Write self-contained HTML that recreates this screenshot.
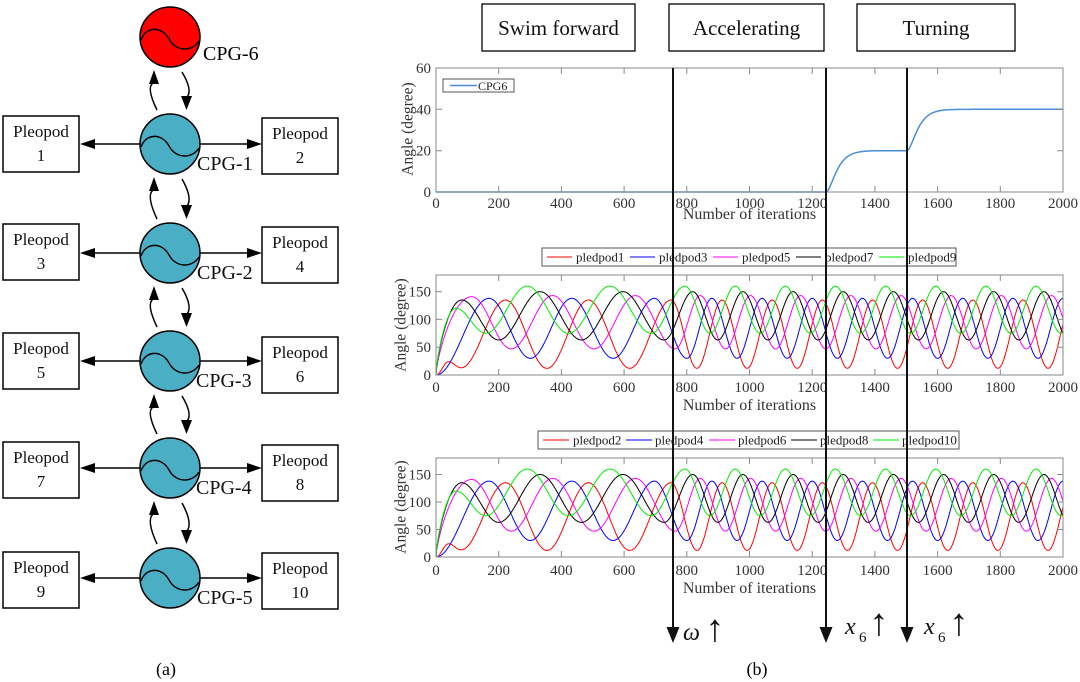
<!DOCTYPE html>
<html><head><meta charset="utf-8"><style>
html,body{margin:0;padding:0;background:#fff;}
svg{display:block;font-family:"Liberation Serif","Times New Roman",serif;}
</style></head><body>
<svg width="1080" height="682" viewBox="0 0 1080 682" xmlns="http://www.w3.org/2000/svg">
<defs>
<path id="wv" d="M-29 3C-24 -11 -8 -11 -1 2C6 15 22 15 29 4" fill="none" stroke="#000" stroke-width="1.4"/>
<g id="harr"><path d="M140 0H94M200 0H248" stroke="#000" stroke-width="1.5"/><path d="M80 0L95 -5L95 5ZM262 0L247 -5L247 5Z" fill="#000"/></g>
<path id="xtb" d="M62.7 0v-6M125.4 0v-6M188.1 0v-6M250.8 0v-6M313.5 0v-6M376.2 0v-6M438.9 0v-6M501.6 0v-6M564.3 0v-6" stroke="#8a8a8a" stroke-width="1"/>
<path id="xtt" d="M62.7 0v6M125.4 0v6M188.1 0v6M250.8 0v6M313.5 0v6M376.2 0v6M438.9 0v6M501.6 0v6M564.3 0v6" stroke="#8a8a8a" stroke-width="1"/>
<clipPath id="c1"><rect x="436" y="66" width="627" height="128"/></clipPath>
<clipPath id="c2"><rect x="436" y="275" width="627" height="100"/></clipPath>
<clipPath id="c3"><rect x="436" y="458" width="627" height="99"/></clipPath>
</defs>
<rect width="1080" height="682" fill="#fff"/>

<!-- ===== Left diagram ===== -->
<circle cx="170" cy="37" r="30" fill="#ff0000" stroke="#000" stroke-width="1.5"/>
<use href="#wv" transform="translate(170,37)"/>
<text x="203" y="60" font-size="20">CPG-6</text>

<g fill="#4aafc5" stroke="#000" stroke-width="1.5">
<circle cx="170" cy="144" r="30"/><circle cx="170" cy="253" r="30"/><circle cx="170" cy="361" r="30"/><circle cx="170" cy="468" r="30"/><circle cx="170" cy="578" r="30"/>
</g>
<use href="#wv" transform="translate(170,144)"/><use href="#wv" transform="translate(170,253)"/><use href="#wv" transform="translate(170,361)"/><use href="#wv" transform="translate(170,468)"/><use href="#wv" transform="translate(170,578)"/>

<use href="#harr" y="144"/><use href="#harr" y="253"/><use href="#harr" y="361"/><use href="#harr" y="468"/><use href="#harr" y="578"/>

<!-- curved coupling arrows -->
<g fill="none" stroke="#000" stroke-width="1.5">
<path d="M157 110Q146 87.5 153 83"/><path d="M182 72Q193 90.5 187 97"/>
<path d="M157 219Q146 195.5 153 190"/><path d="M182 179Q193 198.5 187 206"/>
<path d="M157 327Q146 304 153 299"/><path d="M182 288Q193 307 187 314"/>
<path d="M157 434Q146 411.5 153 407"/><path d="M182 396Q193 414.5 187 421"/>
<path d="M157 544Q146 520 153 514"/><path d="M182 503Q193 523 187 531"/>
</g>
<g fill="#000">
<path d="M154 70L149 84L159 84Z"/><path d="M181 96L192 96L186.5 110Z"/>
<path d="M154 177L149 191L159 191Z"/><path d="M181 205L192 205L186.5 219Z"/>
<path d="M154 286L149 300L159 300Z"/><path d="M181 313L192 313L186.5 327Z"/>
<path d="M154 394L149 408L159 408Z"/><path d="M181 420L192 420L186.5 434Z"/>
<path d="M154 501L149 515L159 515Z"/><path d="M181 530L192 530L186.5 544Z"/>
</g>

<g fill="#fff" stroke="#000" stroke-width="1.5">
<rect x="3" y="116" width="76" height="56"/><rect x="262" y="118" width="76" height="56"/>
<rect x="3" y="224" width="76" height="56"/><rect x="262" y="227" width="76" height="56"/>
<rect x="3" y="333" width="76" height="56"/><rect x="262" y="337" width="76" height="56"/>
<rect x="3" y="442" width="76" height="56"/><rect x="262" y="445" width="76" height="56"/>
<rect x="3" y="552" width="76" height="56"/><rect x="262" y="553" width="76" height="56"/>
</g>
<g font-size="17" text-anchor="middle" fill="#111">
<text x="41" y="137">Pleopod</text><text x="41" y="161">1</text>
<text x="300" y="139">Pleopod</text><text x="300" y="163">2</text>
<text x="41" y="245">Pleopod</text><text x="41" y="269">3</text>
<text x="300" y="248">Pleopod</text><text x="300" y="272">4</text>
<text x="41" y="354">Pleopod</text><text x="41" y="378">5</text>
<text x="300" y="358">Pleopod</text><text x="300" y="382">6</text>
<text x="41" y="463">Pleopod</text><text x="41" y="487">7</text>
<text x="300" y="466">Pleopod</text><text x="300" y="490">8</text>
<text x="41" y="573">Pleopod</text><text x="41" y="597">9</text>
<text x="300" y="574">Pleopod</text><text x="300" y="598">10</text>
</g>
<g font-size="20" fill="#111">
<text x="197" y="170">CPG-1</text>
<text x="197" y="279">CPG-2</text>
<text x="196" y="387">CPG-3</text>
<text x="196" y="494">CPG-4</text>
<text x="197" y="604">CPG-5</text>
</g>
<text x="166" y="675" font-size="18" text-anchor="middle">(a)</text>

<!-- ===== Title boxes ===== -->
<g fill="none" stroke="#000" stroke-width="1.3">
<rect x="482" y="4" width="153" height="47"/>
<rect x="669" y="4" width="155" height="47"/>
<rect x="857" y="4" width="158" height="47"/>
</g>
<g font-size="21" text-anchor="middle" fill="#111">
<text x="558.5" y="35">Swim forward</text>
<text x="746.5" y="35">Accelerating</text>
<text x="936" y="35">Turning</text>
</g>

<!-- ===== Top plot ===== -->
<path id="cpg6" clip-path="url(#c1)" fill="none" stroke="#4a8ddb" stroke-width="1.5" d=""/>
<rect x="436" y="68" width="627" height="124" fill="none" stroke="#8a8a8a" stroke-width="1"/>
<use href="#xtb" x="436" y="192"/><use href="#xtt" x="436" y="68"/>
<path d="M436 150.7h6M436 109.3h6M1063 150.7h-6M1063 109.3h-6" stroke="#8a8a8a"/>
<g font-size="15" fill="#333" text-anchor="end">
<text x="431" y="197">0</text><text x="431" y="155.7">20</text><text x="431" y="114.3">40</text><text x="431" y="73">60</text>
</g>
<g font-size="15" fill="#333" text-anchor="middle" transform="translate(0,208)">
<text x="436">0</text><text x="498.7">200</text><text x="561.4">400</text><text x="624.1">600</text><text x="686.8">800</text><text x="749.5">1000</text><text x="812.2">1200</text><text x="874.9">1400</text><text x="937.6">1600</text><text x="1000.3">1800</text><text x="1063">2000</text>
</g>
<text x="749.5" y="219" font-size="16" fill="#333" text-anchor="middle">Number of iterations</text>
<text transform="translate(407,129) rotate(-90)" dy="0.35em" font-size="15.5" fill="#333" text-anchor="middle">Angle (degree)</text>
<rect x="443" y="79" width="71" height="13" fill="#fff" stroke="#555" stroke-width="1"/>
<path d="M450 85.5H477" stroke="#4a8ddb" stroke-width="1.5"/>
<text x="478" y="90" font-size="12" fill="#222">CPG6</text>

<!-- ===== Middle plot ===== -->
<g clip-path="url(#c2)" fill="none" stroke-width="1">
<path id="m0" stroke="#ff0000" d=""/><path id="m1" stroke="#0000ff" d=""/><path id="m2" stroke="#ff00ff" d=""/><path id="m3" stroke="#000000" d=""/><path id="m4" stroke="#00ee00" d=""/>
</g>
<rect x="436" y="275" width="627" height="100" fill="none" stroke="#8a8a8a" stroke-width="1"/>
<use href="#xtb" x="436" y="375"/><use href="#xtt" x="436" y="275"/>
<path d="M436 347.2h6M436 319.4h6M436 291.7h6M1063 347.2h-6M1063 319.4h-6M1063 291.7h-6" stroke="#8a8a8a"/>
<g font-size="15" fill="#333" text-anchor="end">
<text x="431" y="380">0</text><text x="431" y="352.2">50</text><text x="431" y="324.4">100</text><text x="431" y="296.7">150</text>
</g>
<g font-size="15" fill="#333" text-anchor="middle" transform="translate(0,392)">
<text x="436">0</text><text x="498.7">200</text><text x="561.4">400</text><text x="624.1">600</text><text x="686.8">800</text><text x="749.5">1000</text><text x="812.2">1200</text><text x="874.9">1400</text><text x="937.6">1600</text><text x="1000.3">1800</text><text x="1063">2000</text>
</g>
<text x="749.5" y="410" font-size="16" fill="#333" text-anchor="middle">Number of iterations</text>
<text transform="translate(400,325) rotate(-90)" dy="0.35em" font-size="15.5" fill="#333" text-anchor="middle">Angle (degree)</text>
<rect x="542" y="248" width="414" height="18" fill="#fff" stroke="#555" stroke-width="1"/>
<g stroke-width="1">
<path d="M547 257H572" stroke="#ff0000"/><path d="M630 257H655" stroke="#0000ff"/><path d="M713 257H738" stroke="#ff00ff"/><path d="M796 257H821" stroke="#000"/><path d="M879 257H904" stroke="#00ee00"/>
</g>
<g font-size="13" fill="#222">
<text x="576" y="261.5">pledpod1</text><text x="659" y="261.5">pledpod3</text><text x="742" y="261.5">pledpod5</text><text x="825" y="261.5">pledpod7</text><text x="908" y="261.5">pledpod9</text>
</g>

<!-- ===== Bottom plot ===== -->
<g clip-path="url(#c3)" fill="none" stroke-width="1">
<path id="b0" stroke="#ff0000" d=""/><path id="b1" stroke="#0000ff" d=""/><path id="b2" stroke="#ff00ff" d=""/><path id="b3" stroke="#000000" d=""/><path id="b4" stroke="#00ee00" d=""/>
</g>
<rect x="436" y="458" width="627" height="99" fill="none" stroke="#8a8a8a" stroke-width="1"/>
<use href="#xtb" x="436" y="557"/><use href="#xtt" x="436" y="458"/>
<path d="M436 529.5h6M436 502h6M436 474.5h6M1063 529.5h-6M1063 502h-6M1063 474.5h-6" stroke="#8a8a8a"/>
<g font-size="15" fill="#333" text-anchor="end">
<text x="431" y="562">0</text><text x="431" y="534.5">50</text><text x="431" y="507">100</text><text x="431" y="479.5">150</text>
</g>
<g font-size="15" fill="#333" text-anchor="middle" transform="translate(0,575)">
<text x="436">0</text><text x="498.7">200</text><text x="561.4">400</text><text x="624.1">600</text><text x="686.8">800</text><text x="749.5">1000</text><text x="812.2">1200</text><text x="874.9">1400</text><text x="937.6">1600</text><text x="1000.3">1800</text><text x="1063">2000</text>
</g>
<text x="749.5" y="593" font-size="16" fill="#333" text-anchor="middle">Number of iterations</text>
<text transform="translate(400,507) rotate(-90)" dy="0.35em" font-size="15.5" fill="#333" text-anchor="middle">Angle (degree)</text>
<rect x="538" y="431" width="421" height="18" fill="#fff" stroke="#555" stroke-width="1"/>
<g stroke-width="1">
<path d="M543 440H569" stroke="#ff0000"/><path d="M626 440H652" stroke="#0000ff"/><path d="M709 440H735" stroke="#ff00ff"/><path d="M791 440H817" stroke="#000"/><path d="M873 440H899" stroke="#00ee00"/>
</g>
<g font-size="13" fill="#222">
<text x="573" y="444.5">pledpod2</text><text x="655" y="444.5">pledpod4</text><text x="738" y="444.5">pledpod6</text><text x="820" y="444.5">pledpod8</text><text x="902" y="444.5">pledpod10</text>
</g>

<!-- ===== Vertical marker lines ===== -->
<g stroke="#111" stroke-width="2">
<path d="M673 68V630M826 68V630M907 68V630"/>
</g>
<g fill="#111">
<path d="M666.5 627L679.5 627L673 643Z"/><path d="M819.5 627L832.5 627L826 643Z"/><path d="M900.5 627L913.5 627L907 643Z"/>
</g>
<g fill="#111">
<text x="683" y="640" font-size="24" font-style="italic">ω</text>
<text x="715" y="641" font-size="38" text-anchor="middle">↑</text>
<text x="845" y="634" font-size="24" font-style="italic">x</text>
<text x="859" y="642" font-size="15">6</text>
<text x="879" y="635" font-size="38" text-anchor="middle">↑</text>
<text x="924" y="634" font-size="24" font-style="italic">x</text>
<text x="938" y="642" font-size="15">6</text>
<text x="959" y="635" font-size="38" text-anchor="middle">↑</text>
</g>
<text x="757" y="675" font-size="18" text-anchor="middle">(b)</text>
</svg>
<script>
(function(){
var sw=756/264;
function Pi(f){return f<=sw?f*264:756+(f-sw)*160;}
function ext(c,a,pk,early){
  var ex=early.slice(),last=ex[ex.length-1];
  var lastPeak=last[1]>ex[ex.length-2][1];
  var base=pk/264,first=true;
  for(var k=-10;k<80;k++){
    var t=Pi(base+k/2);
    if(t<=last[0]+1)continue;
    var isP=(Math.abs(k%2)===0);
    if(first){if(isP===lastPeak)continue;first=false;}
    ex.push([t,isP?c+a:c-a]);
    if(t>2010)break;
  }
  return ex;
}
function val(ex,qs,t){
  for(var i=1;i<ex.length;i++){
    if(t<=ex[i][0]){
      var t0=ex[i-1][0],t1=ex[i][0],v0=ex[i-1][1],v1=ex[i][1];
      var s=(t-t0)/(t1-t0);
      if(i===1&&qs)return v1*Math.pow(Math.sin(Math.PI/2*s),0.7);
      return v0+(v1-v0)*(1-Math.cos(Math.PI*s))/2;
    }
  }
  return ex[ex.length-1][1];
}
var defs=[
 [73.5,61.5,486,[[0,0],[40,24],[80,13]],false],
 [84,54,433,[[0,0],[169,138]],false],
 [95,48,372,[[0,0],[114,141]],true],
 [106.5,43.5,332,[[0,0],[82,135]],true],
 [117.5,42.5,291,[[0,0],[64,120]],true]
];
function X(t){return 436+t*0.3135;}
for(var i=0;i<defs.length;i++){
  var d=defs[i],ex=ext(d[0],d[1],d[2],d[3]);
  var s1=[],s2=[];
  for(var t=0;t<=2000;t+=2){
    var v=val(ex,d[4],t),x=X(t).toFixed(1);
    s1.push(x+" "+(375-v*100/180).toFixed(1));
    s2.push(x+" "+(557-v*99/180).toFixed(1));
  }
  document.getElementById("m"+i).setAttribute("d","M"+s1.join("L"));
  document.getElementById("b"+i).setAttribute("d","M"+s2.join("L"));
}
function f(tau){var k=0.05;return 1-(1+k*tau)*Math.exp(-k*tau);}
var s=[];
for(var t=0;t<=2000;t+=2){
  var v=0;
  if(t>=1502)v=20+20*f(t-1502);
  else if(t>=1244)v=20*f(t-1244);
  s.push(X(t).toFixed(1)+" "+(192-v*124/60).toFixed(1));
}
document.getElementById("cpg6").setAttribute("d","M"+s.join("L"));
})();
</script>
</body></html>
